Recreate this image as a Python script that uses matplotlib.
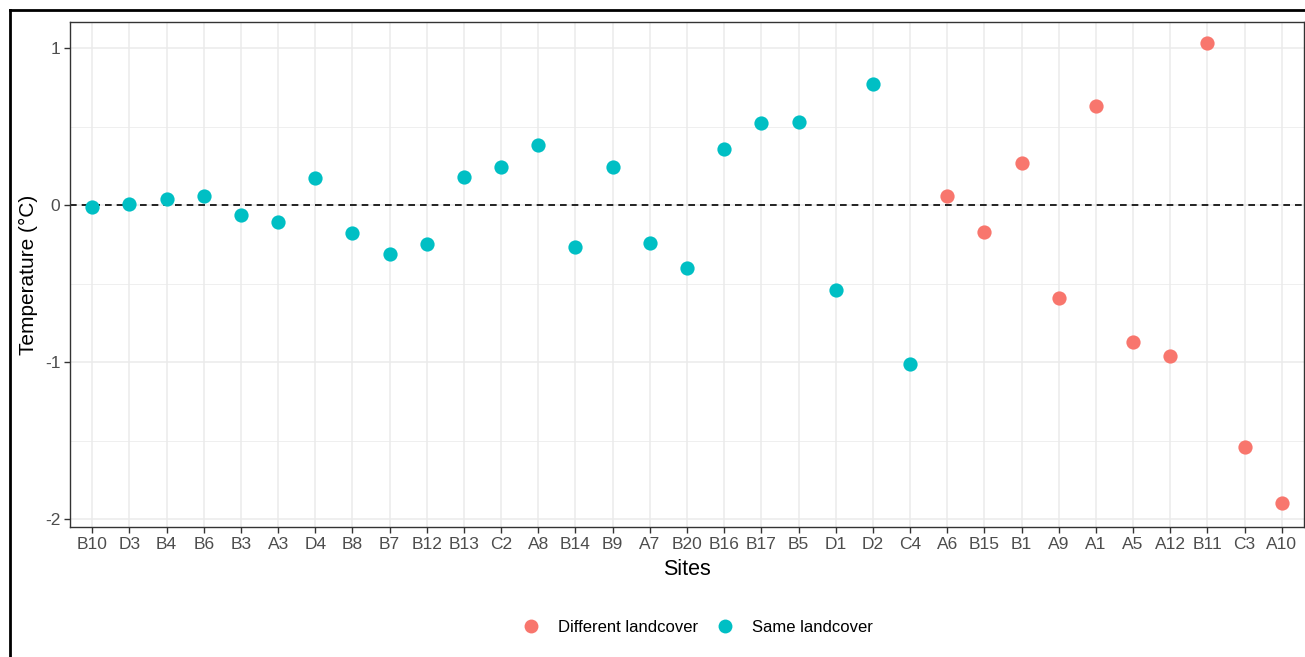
import matplotlib.pyplot as plt
from matplotlib.lines import Line2D

plt.rcParams['font.family'] = ['Liberation Sans', 'DejaVu Sans']

# temperature difference per site, in plotting order
sites = ['B10', 'D3', 'B4', 'B6', 'B3', 'A3', 'D4', 'B8', 'B7', 'B12', 'B13',
         'C2', 'A8', 'B14', 'B9', 'A7', 'B20', 'B16', 'B17', 'B5', 'D1', 'D2',
         'C4', 'A6', 'B15', 'B1', 'A9', 'A1', 'A5', 'A12', 'B11', 'C3', 'A10']
temp = [-0.01, 0.01, 0.04, 0.06, -0.06, -0.11, 0.17, -0.18, -0.31, -0.25, 0.18,
        0.24, 0.38, -0.27, 0.24, -0.24, -0.40, 0.36, 0.52, 0.53, -0.54, 0.77,
        -1.01, 0.06, -0.17, 0.27, -0.59, 0.63, -0.87, -0.96, 1.03, -1.54, -1.90]
landcover = ['Same landcover'] * 23 + ['Different landcover'] * 10

groups = ['Different landcover', 'Same landcover']
colours = {'Different landcover': '#F8766D', 'Same landcover': '#00BFC4'}

fig = plt.figure(figsize=(13.05, 6.57), dpi=100)
ax = fig.add_axes([70 / 1305, 1 - 527 / 657, 1234 / 1305, 505 / 657])

xs = list(range(len(sites)))
ax.set_xlim(-0.6, len(sites) - 0.4)
ax.set_ylim(-2.05, 1.166)

# grid like theme_bw
ax.set_yticks([-2, -1, 0, 1])
ax.set_yticks([-1.5, -0.5, 0.5], minor=True)
ax.set_xticks(xs)
ax.set_xticklabels(sites)
ax.set_yticklabels(['-2', '-1', '0', '1'])
ax.grid(which='major', color='#EBEBEB', linewidth=1.1)
ax.grid(which='minor', axis='y', color='#EBEBEB', linewidth=0.55)
ax.tick_params(which='minor', length=0)
ax.tick_params(which='major', length=4, width=1, color='#333333',
               labelsize=12.5, labelcolor='#4D4D4D', pad=3)
ax.set_axisbelow(True)
for s in ax.spines.values():
    s.set_color('#333333')
    s.set_linewidth(1)

ax.axhline(0, color='black', linewidth=1.2, linestyle=(0, (4, 3)), zorder=2)

for g in groups:
    gx = [x for x, c in zip(xs, landcover) if c == g]
    gy = [t for t, c in zip(temp, landcover) if c == g]
    ax.scatter(gx, gy, s=105, color=colours[g], linewidths=0, zorder=3)

ax.set_xlabel('Sites', fontsize=15.5, color='black', labelpad=5)
ax.set_ylabel('Temperature (°C)', fontsize=15, color='black', labelpad=5)

handles = [Line2D([], [], marker='o', linestyle='', markersize=10,
                  markerfacecolor=colours[g], markeredgewidth=0) for g in groups]
fig.legend(handles, groups, loc='center',
           bbox_to_anchor=(697 / 1305, 1 - 627 / 657),
           ncol=2, frameon=False, fontsize=12, handletextpad=1.05,
           columnspacing=1.0, handlelength=1.2)

# outer frame around the whole figure
fig.add_artist(Line2D([9.5 / 1305, 9.5 / 1305], [0, 1 - 9.5 / 657],
                      transform=fig.transFigure, color='black', linewidth=2))
fig.add_artist(Line2D([9.5 / 1305, 1], [1 - 9.5 / 657, 1 - 9.5 / 657],
                      transform=fig.transFigure, color='black', linewidth=2))

fig.savefig('out.png', dpi=100)
